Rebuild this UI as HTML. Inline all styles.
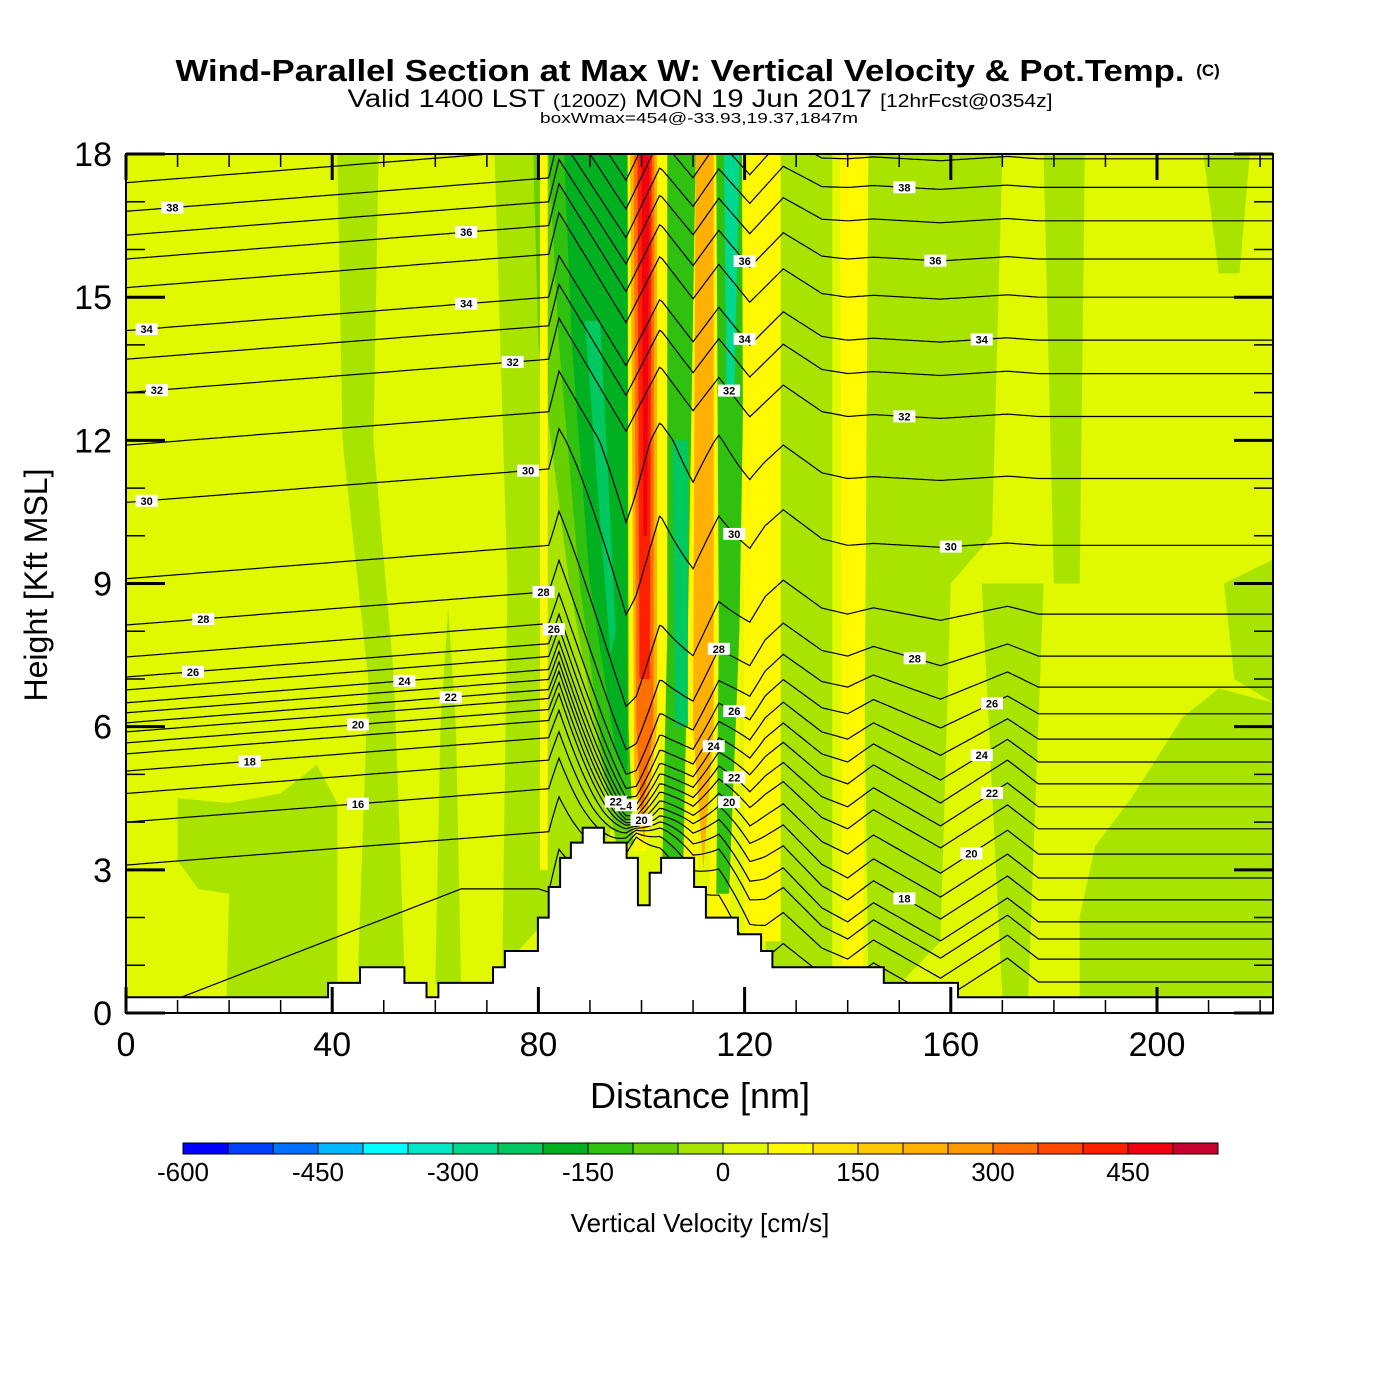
<!DOCTYPE html>
<html><head><meta charset="utf-8"><style>
html,body{margin:0;padding:0;background:#fff;}
svg{display:block;font-family:"Liberation Sans",sans-serif;}
</style></head><body>
<svg id="chart" width="1400" height="1400" viewBox="0 0 1400 1400">
<rect width="1400" height="1400" fill="#fff"/>
<text x="680" y="81" font-size="31" font-weight="bold" text-anchor="middle" textLength="1009" lengthAdjust="spacingAndGlyphs">Wind-Parallel Section at Max W: Vertical Velocity &amp; Pot.Temp.</text>
<text x="1208" y="76" font-size="17" font-weight="bold" text-anchor="middle">(C)</text>
<text x="700" y="107" font-size="25" text-anchor="middle" textLength="705" lengthAdjust="spacingAndGlyphs">Valid 1400 LST <tspan font-size="18">(1200Z)</tspan> MON 19 Jun 2017 <tspan font-size="18">[12hrFcst@0354z]</tspan></text>
<text x="699" y="123" font-size="15" text-anchor="middle" textLength="318" lengthAdjust="spacingAndGlyphs">boxWmax=454@-33.93,19.37,1847m</text>
<defs><clipPath id="plotclip"><rect x="126" y="154" width="1147" height="859"/></clipPath></defs>
<g id="plot" clip-path="url(#plotclip)"></g>
<g id="axes"></g>
<g id="cbar"></g>
<text x="700" y="1108" font-size="36" text-anchor="middle">Distance [nm]</text>
<text transform="translate(47,585) rotate(-90)" font-size="32" text-anchor="middle">Height [Kft MSL]</text>
<text x="700" y="1232" font-size="26" text-anchor="middle">Vertical Velocity [cm/s]</text>
</svg>
<script>
// ---- data ----
const binEdges = [-600,-550,-500,-450,-400,-350,-300,-250,-200,-150,-100,-50,0,50,100,150,200,250,300,350,400,450,500,550];
const binColors = ["#0000ff","#0040ff","#0070ff","#00b8ff","#00ffff","#00e8c8","#00d890","#00c860","#00b020","#30c010","#68d000","#a8e400","#e0f800","#fff800","#ffe000","#ffc800","#ffb000","#ff9800","#ff7000","#ff4800","#ff2000","#f00010","#c80030"];
const cbarTicks = [-600,-450,-300,-150,0,150,300,450];
const xTicks = [0,40,80,120,160,200];
const yTicks = [0,3,6,9,12,15,18];
const bgValue = 25;
const fieldValues = [-25,-25,-25,-25,-25,-25,-25,-25,-25,-25,-25,-75,-125,-175,-225,75,75,225,325,425,475,75,-125,-225,225,75,-125,-275,225,75,75];
const fieldShapes = [
 [[10,4.5],[20,4.4],[30,4.6],[37,5.2],[41,4.4],[41,0.33],[19.5,0.33],[20,2.5],[14,2.6],[10,3.2]],
 [[41,18],[49,18],[48,12],[52,7],[54,0.9],[45,0.9],[47,7],[42,12]],
 [[60,0.6],[65,0.6],[64,6],[62.5,8.5],[61,6]],
 [[71.5,18],[84,18],[90,9],[95,4],[93,3.6],[82,2.0],[76,1.3],[73,0.9],[74,9]],
 [[125,18],[137,18],[137,0.9],[124,0.9],[126,9]],
 [[143,18],[170,18],[168,10],[160,9],[158,1.5],[150,0.6],[144,0.6],[143,9]],
 [[166,9],[178,9],[175,0.33],[170,0.33]],
 [[185,0.33],[222.5,0.33],[222.5,6.5],[212,6.8],[205,6.2],[195,4.5],[188,3.5],[185,2]],
 [[178,18],[186,18],[185,9],[180,9]],
 [[209,18],[218,18],[216,15.5],[212,15.5]],
 [[213,9],[222.5,9.5],[222.5,6.5],[215,7]],
 [[79,18],[99,18],[99,3.5],[95,3.6],[86,9],[80,14]],
 [[82,18],[98,18],[98,4.1],[96,4],[93,5],[88,9],[84,14]],
 [[85,18],[97.3,18],[97.3,5],[95,5.5],[90,9],[86.5,14]],
 [[89,14.5],[92,14.5],[95,8],[94,7.5]],
 [[80.3,18],[81.8,18],[81.8,3],[80.3,3]],
 [[97.3,18],[104,18],[104,6],[101,3.4],[98.5,3.4],[97.5,6]],
 [[97.8,18],[103,18],[103,6],[100.5,3.6],[98.6,5]],
 [[98.5,18],[102.5,18],[102.3,6],[100,4.0],[99,6]],
 [[99.2,18],[102,18],[101.6,7],[99.6,7]],
 [[100,18],[101.5,18],[101.1,10],[100.4,10]],
 [[104,18],[111,18],[111,3],[104,3]],
 [[105,18],[110.5,18],[109,8],[108,2.5],[104,3],[105,8]],
 [[106,12],[109,12],[109,6],[106.5,6]],
 [[110.5,18],[114.5,18],[114,6],[112,3],[110,6]],
 [[114,18],[121,18],[119,6],[117,2],[113,2],[114,6]],
 [[114.5,18],[120.5,18],[119,8],[117,2.5],[114.5,2.5],[115,8]],
 [[116,18],[119,18],[118,13],[116.5,13]],
 [[120.5,18],[125.5,18],[126,8],[124,3.5],[121,3],[120,8]],
 [[119.5,18],[127,18],[127,1.5],[120,1.5]],
 [[138.5,18],[144,18],[143,1],[139,1]]
];
const terrainDist = [0,39.2,45.4,54,58.3,60.6,71.2,73.5,79.9,82.0,84.2,86.3,88.6,92.7,97.1,99.3,101.6,103.8,110.2,112.5,118.7,123.2,125.4,147.0,161.4,222.5];
const terrainHeight = [0.33,0.63,0.96,0.63,0.33,0.63,0.96,1.3,2.0,2.64,3.25,3.57,3.88,3.57,3.25,2.26,2.94,3.25,2.64,2.0,1.65,1.3,0.96,0.63,0.33];
const thetaLevels = [14,15,16,17,18,19,20,21,22,23,24,25,26,27,28,29,30,31,32,33,34,35,36,37,38,39,40];
const thetaLeft = [0.3,3.1,4.0,4.6,5.07,5.43,5.66,5.89,6.08,6.29,6.5,6.77,7.04,7.46,8.13,9.1,10.7,11.9,13.0,13.7,14.3,15.2,15.8,16.3,16.8,17.4,18.0];
const thetaRight = [0.65,1.13,1.55,1.91,2.37,2.83,3.33,3.86,4.32,4.8,5.26,5.74,6.27,6.83,7.48,8.36,9.8,11.2,12.5,13.4,14.1,15.0,15.8,16.6,17.3,17.9,18.5];
const labelLevels = [38,34,32,30,28,26,24,22,20,18,16,14,38,36,34,32,30,28,26,24,22,20,18,36,34,32,30,28,26,24,22,20,36,34,32,30,28,26,24,22,20];
const labelDist = [9,4,6,4,15,13,54,63,45,24,45,10,151,157,166,151,160,153,168,166,168,164,151,66,66,75,78,81,83,97,95,100,120,120,117,118,115,118,114,118,117];
// ---- scales ----
const X = d => 126 + d*5.155;
const Y = h => 1013 - h*47.72;
const NS = "http://www.w3.org/2000/svg";
function mk(tag, attrs, parent){ const e=document.createElementNS(NS,tag); for(const k in attrs) e.setAttribute(k,attrs[k]); parent.appendChild(e); return e; }
function colorFor(v){ for(let i=0;i<binColors.length;i++){ if(v>=binEdges[i]&&v<binEdges[i+1]) return binColors[i]; } return binColors[binColors.length-1]; }
function interp(pts,x){ if(x<=pts[0][0]) return pts[0][1]; for(let i=1;i<pts.length;i++){ if(x<=pts[i][0]){ const a=pts[i-1],b=pts[i]; return a[1]+(b[1]-a[1])*(x-a[0])/(b[0]-a[0]); } } return pts[pts.length-1][1]; }
const plot = document.getElementById('plot');
const bg = mk('rect',{x:126,y:154,width:1147,height:859,fill:colorFor(bgValue)},plot);


fieldShapes.forEach((poly,i)=>{
  const p = mk('polygon',{points:poly.map(q=>X(q[0])+','+Y(q[1])).join(' '),fill:colorFor(fieldValues[i])},plot);
  
  
});
const zig = [[0,0],[82,0],[84,0.9],[97,-1.2],[103.6,0.3],[110,-0.5],[115,0.3],[121,-0.4],[127.5,0.4],[135,0]];
const bump = [[0,0],[140,0],[145,0.4],[158,-0.4],[171,0.5],[177,0],[222.5,0]];
function lineH(i,x){
  const hl=thetaLeft[i], hr=thetaRight[i];
  let b;
  if(i===0){
    if(x<=80) b=hl+2.3*Math.min(1,Math.max(0,(x-10)/55));
    else if(x>=140) b=hr; else b=(hl+2.3)+(hr-hl-2.3)*(x-80)/60;
  } else if(x<=82) b=hl+0.7*x/82; else if(x>=140) b=hr; else b=(hl+0.7)+(hr-hl-0.7)*(x-82)/58;
  b += interp(zig,x);
  b += interp(bump,x)*Math.min(1,Math.max(0.1,(10-hr)/5));
  const w = x<99 ? Math.max(0,1-(99-x)/17) : Math.max(0,1-(x-99)/25);
  const k = Math.min(0.92,Math.max(0,(12-b)/8));
  return b*(1-w*k)+3.9*w*k;
}
thetaLevels.forEach((lv,i)=>{
  const pts=[];
  for(let x=0;x<=222.5;x+=0.5) pts.push(X(x).toFixed(1)+','+Y(lineH(i,x)).toFixed(1));
  const pl = mk('polyline',{points:pts.join(' '),fill:'none',stroke:'#000','stroke-width':1.2},plot);
  
  
});
const tp=[[X(0),Y(-1)]];
terrainHeight.forEach((h,i)=>{ tp.push([X(terrainDist[i]),Y(h)]); tp.push([X(terrainDist[i+1]),Y(h)]); });
tp.push([X(222.5),Y(-1)]);
const terr = mk('polygon',{points:tp.map(q=>q[0].toFixed(1)+','+q[1].toFixed(1)).join(' '),fill:'#fff',stroke:'#000','stroke-width':2},plot);


labelLevels.forEach((lv,j)=>{
  const i = thetaLevels.indexOf(lv);
  const x = labelDist[j], h = lineH(i,x);
  if(h < interp(terrainDist.map((d,k)=>[d,terrainHeight[Math.min(k,terrainHeight.length-1)]]),x)+0.2) return;
  const g = mk('g',{},plot);
  
  
  mk('rect',{x:X(x)-11,y:Y(h)-6,width:22,height:12,fill:'#fff'},g);
  const t = mk('text',{x:X(x),y:Y(h)+4,'font-size':11,'font-weight':'bold','text-anchor':'middle'},g);
  t.textContent = lv;
});
const ax = document.getElementById('axes');
const frame = mk('rect',{x:126,y:154,width:1147,height:859,fill:'none',stroke:'#000','stroke-width':2},ax);


for(let d=0; d<=220; d+=10){
  const major = d%40===0, L = major?26:13;
  mk('line',{x1:X(d),y1:1013,x2:X(d),y2:1013-L,stroke:'#000','stroke-width':major?3:1.5},ax);
  mk('line',{x1:X(d),y1:154,x2:X(d),y2:154+L,stroke:'#000','stroke-width':major?3:1.5},ax);
}
for(let h=0; h<=18; h+=1){
  const major = h%3===0, L = major?39:19;
  mk('line',{x1:126,y1:Y(h),x2:126+L,y2:Y(h),stroke:'#000','stroke-width':major?3:1.5},ax);
  mk('line',{x1:1273,y1:Y(h),x2:1273-L,y2:Y(h),stroke:'#000','stroke-width':major?3:1.5},ax);
}
xTicks.forEach(d=>{ const t=mk('text',{x:X(d),y:1056,'font-size':34,'text-anchor':'middle'},ax);   t.textContent=d; });
yTicks.forEach(h=>{ const t=mk('text',{x:112,y:Y(h)+12,'font-size':34,'text-anchor':'end'},ax);   t.textContent=h; });
const cb = document.getElementById('cbar');
const CX = v => 183 + (v+600)*0.9;
binColors.forEach((c,i)=>{
  const r = mk('rect',{x:CX(binEdges[i]),y:1143,width:CX(binEdges[i+1])-CX(binEdges[i]),height:11,fill:c,stroke:'#000','stroke-width':1},cb);
  
  
});
cbarTicks.forEach(v=>{ const t=mk('text',{x:CX(v),y:1181,'font-size':26,'text-anchor':'middle'},cb);   t.textContent=v; });
</script>
</body></html>
